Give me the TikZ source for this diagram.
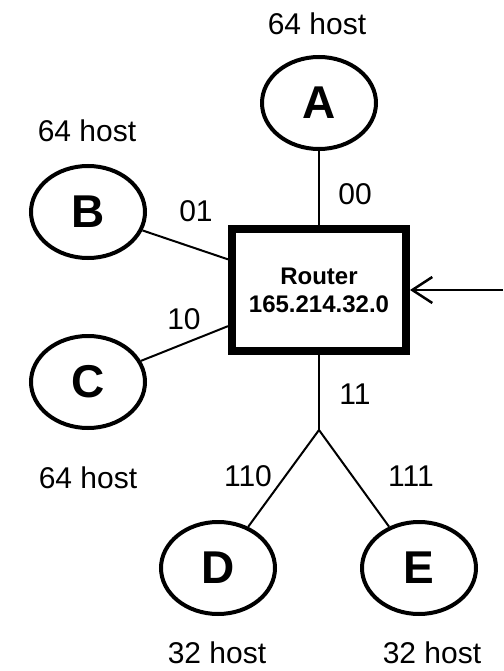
\documentclass[tikz,border=0pt]{standalone}
\usepackage{fontspec}
\setmainfont{Liberation Sans}
\usetikzlibrary{shapes.geometric,arrows.meta}
\begin{document}
\begin{tikzpicture}[x=1pt,y=-1pt,
  host/.style={draw,ellipse,line width=4pt,minimum width=114pt,minimum height=92pt,inner sep=0pt,
    font=\fontsize{46}{50}\selectfont\bfseries},
  router/.style={draw,rectangle,line width=8pt,minimum width=174pt,minimum height=122pt,inner sep=0pt,
    align=center,font=\fontsize{24}{28}\selectfont\bfseries},
  lbl/.style={inner sep=0pt,font=\fontsize{30}{34}\selectfont},
  link/.style={line width=2pt}]
\useasboundingbox (0,0) rectangle (503,671);
\node[router] (R) at (319,290) {Router\\165.214.32.0};
\node[host] (A) at (319,103) {A};
\node[host] (B) at (88,212) {B};
\node[host] (C) at (88,382) {C};
\node[host] (D) at (218,568) {D};
\node[host] (E) at (419,568) {E};
\coordinate (J) at (319,430);
\coordinate (in) at (503,290);
\draw[link] (A) -- (R);
\draw[link] (B) -- (R);
\draw[link] (C) -- (R);
\draw[link] (R) -- (J);
\draw[link] (J) -- (D);
\draw[link] (J) -- (E);
\draw[link,-{Straight Barb[length=20pt,width=26pt,line width=2.5pt]}] (in) -- (R.east);
\node[lbl] (lA) at (317,24) {64 host};
\node[lbl] (lB) at (87,131) {64 host};
\node[lbl] (lC) at (88,478) {64 host};
\node[lbl] (lD) at (217,653) {32 host};
\node[lbl] (lE) at (432,653) {32 host};
\node[lbl] (l00) at (355,194) {00};
\node[lbl] (l01) at (196,211) {01};
\node[lbl] (l10) at (184,319) {10};
\node[lbl] (l11) at (355,394) {11};
\node[lbl] (l110) at (248,476) {110};
\node[lbl] (l111) at (411,476) {111};
\end{tikzpicture}
\end{document}
